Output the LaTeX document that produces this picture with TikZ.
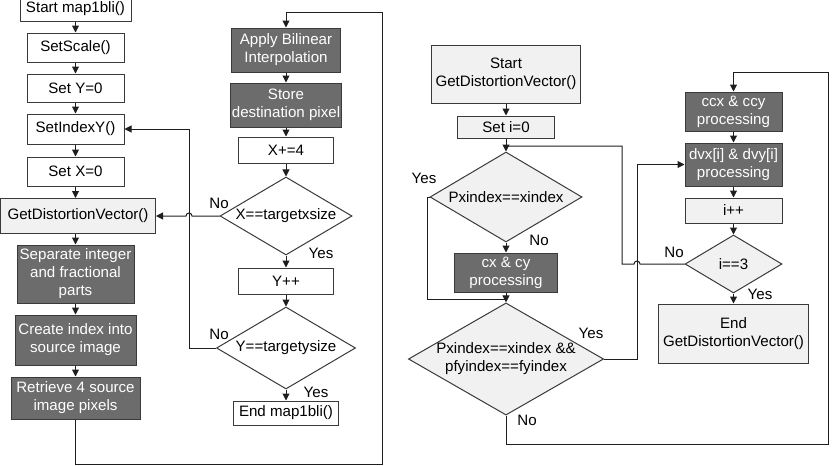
\documentclass[tikz,border=0pt]{standalone}
\usepackage{fontspec}
\setmainfont{Liberation Sans}
\usetikzlibrary{arrows.meta,shapes.geometric}
\definecolor{darkfill}{HTML}{6C6C6C}
\definecolor{lightfill}{HTML}{F1F1F1}
\definecolor{edgecol}{HTML}{3A3A3A}
\definecolor{linecol}{HTML}{1E1E1E}
\begin{document}
\begin{tikzpicture}[x=1pt,y=-1pt,
  font=\fontsize{15.1}{18}\selectfont,
  basebox/.style={draw=edgecol, line width=1pt, inner sep=1pt, align=center, anchor=center},
  wbox/.style={basebox, fill=white, text=black},
  lbox/.style={basebox, fill=lightfill, text=black},
  dbox/.style={basebox, fill=darkfill, text=white},
  dia/.style={shape=diamond, draw=edgecol, line width=1pt, fill=lightfill, inner sep=0pt, align=center, anchor=center},
  conn/.style={draw=linecol, line width=1pt},
  arr/.style={conn, -{Triangle[length=7pt,width=7pt]}},
  lab/.style={inner sep=0pt, text=black}]
\useasboundingbox (0,0) rectangle (836,466);

% ---- left column
\node[wbox, minimum width=111pt, minimum height=25pt] (start) at (75.5,8.5) {Start map1bli()};
\node[wbox, minimum width=97pt, minimum height=29pt] (scale) at (75.5,47.5) {SetScale()};
\node[wbox, minimum width=97pt, minimum height=28pt] (sety) at (75.5,88) {Set Y=0};
\node[wbox, minimum width=97pt, minimum height=30pt] (setidx) at (75.5,129) {SetIndexY()};
\node[wbox, minimum width=97pt, minimum height=29pt] (setx) at (75.5,171.5) {Set X=0};
\node[lbox, minimum width=155pt, minimum height=35pt] (gdv) at (78,216) {GetDistortionVector()};
\node[dbox, minimum width=117pt, minimum height=58pt] (sep) at (75.5,274) {Separate integer\\and fractional\\parts};
\node[dbox, minimum width=121pt, minimum height=50pt] (cidx) at (75.5,340) {Create index into\\source image};
\node[dbox, minimum width=129pt, minimum height=42pt] (ret) at (75.5,398) {Retrieve 4 source\\image pixels};

% ---- middle column
\node[dbox, minimum width=109pt, minimum height=44pt] (abi) at (286,50) {Apply Bilinear\\Interpolation};
\node[dbox, minimum width=109pt, minimum height=44pt] (store) at (286,105) {Store\\destination pixel};
\node[wbox, minimum width=95pt, minimum height=26pt] (xp4) at (286,150) {X+=4};
\node[dia, fill=white, minimum width=132pt, minimum height=78pt, shape aspect=1.7] (dx) at (286,216) {X==targetxsize};
\node[wbox, minimum width=95pt, minimum height=26pt] (ypp) at (286,281) {Y++};
\node[dia, fill=white, minimum width=139pt, minimum height=82pt, shape aspect=1.7] (dy) at (286,348) {Y==targetysize};
\node[wbox, minimum width=105pt, minimum height=24pt] (endm) at (286,413) {End map1bli()};

% ---- right part, first column
\node[lbox, minimum width=149pt, minimum height=58pt] (sgdv) at (506,74) {Start\\GetDistortionVector()};
\node[lbox, minimum width=97pt, minimum height=22pt] (seti) at (506,127) {Set i=0};
\node[dia, minimum width=152pt, minimum height=90pt, shape aspect=1.69] (dp) at (506,197) {Pxindex==xindex};
\node[dbox, minimum width=103pt, minimum height=39pt] (cxcy) at (506,272.5) {cx \& cy\\processing};
\node[dia, minimum width=194pt, minimum height=112pt, shape aspect=1.74] (dbig) at (506,359) {Pxindex==xindex \&\&\\pfyindex==fyindex};

% ---- right part, second column
\node[dbox, minimum width=97pt, minimum height=39pt] (ccx) at (733.5,111.5) {ccx \& ccy\\processing};
\node[dbox, minimum width=97pt, minimum height=43pt] (dvx) at (733.5,164.5) {dvx[i] \& dvy[i]\\processing};
\node[lbox, minimum width=97pt, minimum height=25pt] (ipp) at (733.5,210.5) {i++};
\node[dia, minimum width=97pt, minimum height=58pt, shape aspect=1.67] (di3) at (733.5,264) {i==3};
\node[lbox, minimum width=150pt, minimum height=59pt] (endg) at (733.5,333.5) {End\\GetDistortionVector()};

% ---- coordinates for connector bends
\coordinate (c1) at (75.5,464);
\coordinate (c2) at (382,464);
\coordinate (c3) at (382,12);
\coordinate (c4) at (286,12);
\coordinate (h1) at (192,216);
\coordinate (d1) at (189,348);
\coordinate (d2) at (189,129);
\coordinate (gsep) at (75.5,234);
\coordinate (j1) at (506,146);
\coordinate (n1) at (640,264);
\coordinate (n2) at (622,264);
\coordinate (n3) at (622,146);
\coordinate (y1) at (427,197);
\coordinate (y2) at (427,299);
\coordinate (j2) at (506,299);
\coordinate (b1) at (637,359);
\coordinate (b2) at (637,164.5);
\coordinate (e1) at (506,444);
\coordinate (e2) at (828,444);
\coordinate (e3) at (828,72);
\coordinate (e4) at (733.5,72);

% ---- left column connectors
\draw[arr] (start) -- (scale);
\draw[arr] (scale) -- (sety);
\draw[arr] (sety) -- (setidx);
\draw[arr] (setidx) -- (setx);
\draw[arr] (setx) -- (setx |- gdv.north);
\draw[arr] (gsep) -- (sep.north);
\draw[arr] (sep) -- (cidx);
\draw[arr] (cidx) -- (ret);
\draw[arr] (ret.south) -- (c1) -- (c2) -- (c3) -- (c4) -- (abi.north);

% ---- middle column connectors
\draw[arr] (abi) -- (store);
\draw[arr] (store) -- (xp4);
\draw[arr] (xp4) -- (dx);
\draw[arr] (dx) -- (ypp);
\draw[arr] (ypp) -- (dy);
\draw[arr] (dy) -- (endm);
\draw[arr] (dx.west) -- (h1) arc[start angle=0,end angle=180,radius=3pt] -- (gdv.east);
\draw[arr] (dy.west) -- (d1) -- (d2) -- (setidx.east);

% ---- right part connectors
\draw[arr] (sgdv) -- (seti);
\draw[arr] (seti) -- (dp);
\draw[conn] (di3.west) -- (n1) arc[start angle=0,end angle=180,radius=3pt] -- (n2) -- (n3) -- (j1);
\draw[conn] (dp.west) -- (y1) -- (y2) -- (j2);
\draw[arr] (dp) -- (cxcy);
\draw[arr] (cxcy) -- (dbig);
\draw[arr] (dbig.east) -- (b1) -- (b2) -- (dvx.west);
\draw[arr] (dbig.south) -- (e1) -- (e2) -- (e3) -- (e4) -- (ccx.north);
\draw[arr] (ccx) -- (dvx);
\draw[arr] (dvx) -- (ipp);
\draw[arr] (ipp) -- (di3);
\draw[arr] (di3) -- (endg);

% ---- labels
\node[lab] (l1) at (219,203) {No};
\node[lab] (l2) at (321,253) {Yes};
\node[lab] (l3) at (219,334) {No};
\node[lab] (l4) at (316,392) {Yes};
\node[lab] (l5) at (424,178) {Yes};
\node[lab] (l6) at (539,240) {No};
\node[lab] (l7) at (591,333) {Yes};
\node[lab] (l8) at (527,420) {No};
\node[lab] (l9) at (674,252) {No};
\node[lab] (l10) at (760,294) {Yes};
\end{tikzpicture}
\end{document}
